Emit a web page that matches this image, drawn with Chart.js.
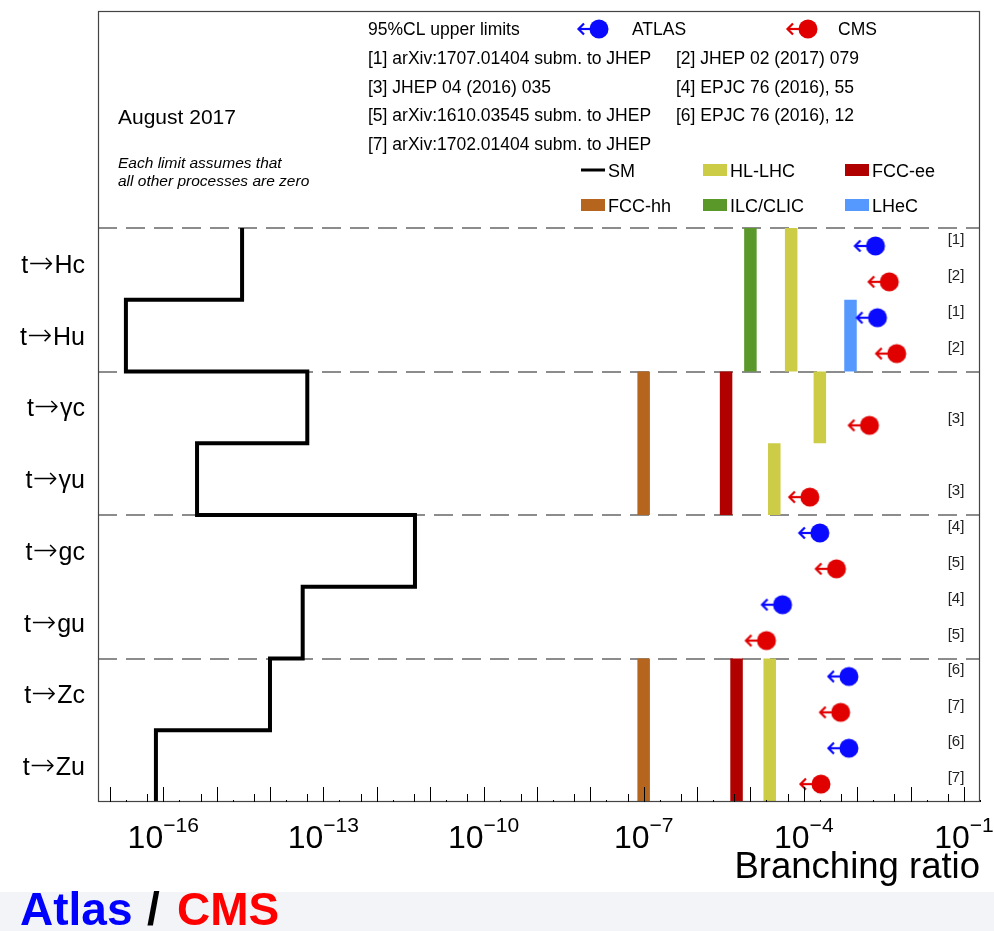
<!DOCTYPE html>
<html>
<head>
<meta charset="utf-8">
<script src="https://cdn.jsdelivr.net/npm/chart.js@4.4.1/dist/chart.umd.min.js"></script>
<style>
body { margin: 0; background: #fff; }
#wrap { position: relative; width: 994px; height: 931px; }
</style>
</head>
<body>
<div id="wrap"><canvas id="chart" width="994" height="931"></canvas></div>
<script>
// processes, top to bottom
var processes = ["t\u2192Hc", "t\u2192Hu", "t\u2192\u03b3c", "t\u2192\u03b3u", "t\u2192gc", "t\u2192gu", "t\u2192Zc", "t\u2192Zu"];
// SM branching ratios
var smBR = [3e-15, 2e-17, 5e-14, 4.3e-16, 5.2e-12, 4.1e-14, 1e-14, 7.3e-17];
// 95% CL upper limits
var atlasBR = [2.2e-3, 2.4e-3, null, null, 2.0e-4, 4.0e-5, 7.0e-4, 7.0e-4];
var atlasRef = ["[1]", "[1]", "", "", "[4]", "[4]", "[6]", "[6]"];
var cmsBR = [4.0e-3, 5.5e-3, 1.7e-3, 1.3e-4, 4.1e-4, 2.0e-5, 4.9e-4, 2.1e-4];
var cmsRef = ["[2]", "[2]", "[3]", "[3]", "[5]", "[5]", "[7]", "[7]"];
// future colliders
var hllhc = [5.8e-5, 5.8e-5, 2.0e-4, 2.8e-5, null, null, 2.3e-5, 2.3e-5];
var fccee = [null, null, 3.5e-6, 3.5e-6, null, null, 5.5e-6, 5.5e-6];
var fcchh = [null, null, 1e-7, 1e-7, null, null, 1e-7, 1e-7];
var ilcclic = [1e-5, 1e-5, null, null, null, null, null, null];
var lhec = [null, 7.5e-4, null, null, null, null, null, null];
// axis
var tickExponents = [-16, -13, -10, -7, -4, -1];
var separators = [4, 8, 12, 16];
// header text
var refCol1 = ["[1] arXiv:1707.01404 subm. to JHEP", "[3] JHEP 04 (2016) 035", "[5] arXiv:1610.03545 subm. to JHEP", "[7] arXiv:1702.01404 subm. to JHEP"];
var refCol2 = ["[2] JHEP 02 (2017) 079", "[4] EPJC 76 (2016), 55", "[6] EPJC 76 (2016), 12"];
var legendNames = ["SM", "HL-LHC", "FCC-ee", "FCC-hh", "ILC/CLIC", "LHeC"];

var FONT = '"Liberation Sans", Arial, Helvetica, sans-serif';
var colors = {
    atlas: "#0a0aff", cms: "#e00000", sm: "#000000",
    hllhc: "#cccc47", fccee: "#b00000", fcchh: "#b5651d",
    ilcclic: "#5a982a", lhec: "#5599ff"
};

function makeMarker(color){
    var c = document.createElement("canvas");
    c.width = 50; c.height = 22;
    var g = c.getContext("2d");
    g.fillStyle = color; g.strokeStyle = color; g.lineWidth = 2.2;
    g.beginPath(); g.arc(25, 11, 9.5, 0, Math.PI * 2); g.fill();
    g.beginPath(); g.moveTo(25, 11); g.lineTo(4.5, 11); g.stroke();
    g.beginPath(); g.moveTo(10, 5.5); g.lineTo(4.5, 11); g.lineTo(10, 16.5); g.stroke();
    return c;
}
var atlasMarker = makeMarker(colors.atlas);
var cmsMarker = makeMarker(colors.cms);

function barData(vals){
    var pts = [];
    vals.forEach(function(v, i){
        if (v == null) return;
        var top = 16 - 2 * i;
        pts.push({x: v, y: top}, {x: v, y: top - 2}, {x: v, y: null});
    });
    return pts;
}

var smPts = smBR.map(function(v, i){ return {x: v, y: 16 - 2 * i}; });
smPts.push({x: smBR[smBR.length - 1], y: 0});

var atlasPts = [], cmsPts = [];
processes.forEach(function(p, i){
    var top = 16 - 2 * i;
    if (atlasBR[i] != null) atlasPts.push({x: atlasBR[i], y: top - 0.5});
    if (cmsBR[i] != null) cmsPts.push({x: cmsBR[i], y: top - 1.5});
});

function barSet(label, vals, color){
    return {
        label: label, data: barData(vals), showLine: true, spanGaps: false,
        borderColor: color, borderWidth: 12.5, borderCapStyle: "butt",
        pointRadius: 0, pointHoverRadius: 0
    };
}

function drawSup(ctx, x, y, exp){
    ctx.font = "32px " + FONT;
    var w1 = ctx.measureText("10").width;
    var expText = "\u2212" + Math.abs(exp);
    ctx.font = "21px " + FONT;
    var w2 = ctx.measureText(expText).width;
    var start = x - (w1 + w2) / 2;
    ctx.textAlign = "left";
    ctx.textBaseline = "alphabetic";
    ctx.font = "32px " + FONT;
    ctx.fillText("10", start, y);
    ctx.font = "21px " + FONT;
    ctx.fillText(expText, start + w1, y - 16);
}

// "t", arrow, rest; the arrow glyph comes from a light DejaVu face so it is long and thin
function drawProcess(ctx, label, right, cy){
    var parts = label.split("\u2192");
    var fText = "25px " + FONT, fArrow = '200 30px "DejaVu Sans", sans-serif';
    ctx.font = fText;
    var w1 = ctx.measureText(parts[0]).width, w3 = ctx.measureText(parts[1]).width;
    ctx.font = fArrow;
    var w2 = ctx.measureText("\u2192").width;
    var x = right - (w1 + w2 + w3 + 1);
    var base = cy + 9;
    ctx.textAlign = "left";
    ctx.textBaseline = "alphabetic";
    ctx.font = fText;
    ctx.fillText(parts[0], x, base);
    ctx.font = fArrow;
    ctx.fillText("\u2192", x + w1, base);
    ctx.font = fText;
    ctx.fillText(parts[1], x + w1 + w2 + 1, base);
}

var decor = {
    id: "decor",
    beforeDraw: function(chart){
        var ctx = chart.ctx;
        ctx.save();
        ctx.fillStyle = "#ffffff";
        ctx.fillRect(0, 0, chart.width, chart.height);
        ctx.fillStyle = "#f3f4f7";
        ctx.fillRect(0, 892, chart.width, chart.height - 892);
        ctx.restore();
    },
    beforeDatasetsDraw: function(chart){
        var ctx = chart.ctx, a = chart.chartArea, ys = chart.scales.y;
        ctx.save();
        ctx.strokeStyle = "#8c8c8c";
        ctx.lineWidth = 2;
        ctx.setLineDash([19, 9]);
        separators.forEach(function(v){
            var py = Math.round(ys.getPixelForValue(v));
            ctx.beginPath(); ctx.moveTo(a.left, py); ctx.lineTo(a.right, py); ctx.stroke();
        });
        ctx.restore();
    },
    afterDatasetsDraw: function(chart){
        var ctx = chart.ctx, a = chart.chartArea, xs = chart.scales.x, ys = chart.scales.y;
        ctx.save();
        // frame
        ctx.strokeStyle = "#444";
        ctx.lineWidth = 1.2;
        ctx.strokeRect(a.left + 0.5, a.top + 0.5, a.right - a.left - 1, a.bottom - a.top - 1);
        // x ticks (inside)
        ctx.strokeStyle = "#000";
        ctx.lineWidth = 1;
        for (var n = -18; n <= 0; n++){
            [1, 2, 5].forEach(function(m){
                var v = m * Math.pow(10, n);
                if (v < xs.min || v > xs.max) return;
                var px = Math.round(xs.getPixelForValue(v)) + 0.5;
                var len = m == 1 ? 15 : (m == 5 ? 8 : 2);
                ctx.beginPath(); ctx.moveTo(px, a.bottom); ctx.lineTo(px, a.bottom - len); ctx.stroke();
            });
        }
        // tick labels
        ctx.fillStyle = "#000";
        tickExponents.forEach(function(e){
            drawSup(ctx, xs.getPixelForValue(Math.pow(10, e)), 848, e);
        });
        ctx.font = "36.5px " + FONT;
        ctx.textAlign = "right";
        ctx.fillText("Branching ratio", a.right, 878);
        // process labels
        processes.forEach(function(p, i){
            drawProcess(ctx, p, 85, ys.getPixelForValue(15 - 2 * i));
        });
        // reference tags on the right
        ctx.font = "15px " + FONT;
        ctx.textAlign = "center";
        ctx.textBaseline = "middle";
        ctx.fillStyle = "#222";
        processes.forEach(function(p, i){
            var top = 16 - 2 * i;
            if (atlasRef[i]) ctx.fillText(atlasRef[i], 956, ys.getPixelForValue(top - 0.5 + 0.17));
            if (cmsRef[i]) ctx.fillText(cmsRef[i], 956, ys.getPixelForValue(top - 1.5 + 0.17));
        });
        // header
        ctx.fillStyle = "#000";
        ctx.textAlign = "left";
        ctx.textBaseline = "alphabetic";
        ctx.font = "17.5px " + FONT;
        ctx.fillText("95%CL upper limits", 368, 34.5);
        ctx.drawImage(atlasMarker, 599 - 25, 29 - 11);
        ctx.fillText("ATLAS", 632, 34.5);
        ctx.drawImage(cmsMarker, 808 - 25, 29 - 11);
        ctx.fillText("CMS", 838, 34.5);
        var rowY = [64, 92.5, 121, 149.5];
        refCol1.forEach(function(t, i){ ctx.fillText(t, 368, rowY[i]); });
        refCol2.forEach(function(t, i){ ctx.fillText(t, 676, rowY[i]); });
        ctx.font = "21px " + FONT;
        ctx.fillText("August 2017", 118, 123.5);
        ctx.font = "italic 15.5px " + FONT;
        ctx.fillText("Each limit assumes that", 118, 168);
        ctx.fillText("all other processes are zero", 118, 186);
        // legend
        var legColors = [colors.sm, colors.hllhc, colors.fccee, colors.fcchh, colors.ilcclic, colors.lhec];
        var legX = [581, 703, 845, 581, 703, 845];
        var legY = [170, 170, 170, 205, 205, 205];
        ctx.font = "18px " + FONT;
        legendNames.forEach(function(name, i){
            ctx.fillStyle = legColors[i];
            if (i == 0) ctx.fillRect(legX[i], legY[i] - 1.5, 24, 3);
            else ctx.fillRect(legX[i], legY[i] - 6, 24, 12);
            ctx.fillStyle = "#000";
            ctx.fillText(name, legX[i] + 27, legY[i] + 6.5);
        });
        // footer
        ctx.font = "bold 46px " + FONT;
        ctx.fillStyle = "#0000ff";
        ctx.fillText("Atlas", 20, 925);
        ctx.fillStyle = "#000";
        ctx.fillText("/", 147, 925);
        ctx.fillStyle = "#ff0000";
        ctx.fillText("CMS", 177, 925);
        ctx.restore();
    }
};

var ctx = document.getElementById("chart").getContext("2d");
var chart = new Chart(ctx, {
    type: "scatter",
    data: {
        datasets: [
            {label: "ATLAS", data: atlasPts, pointStyle: atlasMarker, pointRadius: 10, pointHoverRadius: 10, showLine: false},
            {label: "CMS", data: cmsPts, pointStyle: cmsMarker, pointRadius: 10, pointHoverRadius: 10, showLine: false},
            {label: "SM", data: smPts, showLine: true, stepped: "after", borderColor: colors.sm, borderWidth: 4,
                borderJoinStyle: "miter", pointRadius: 0, pointHoverRadius: 0},
            barSet("LHeC", lhec, colors.lhec),
            barSet("ILC/CLIC", ilcclic, colors.ilcclic),
            barSet("FCC-hh", fcchh, colors.fcchh),
            barSet("FCC-ee", fccee, colors.fccee),
            barSet("HL-LHC", hllhc, colors.hllhc)
        ]
    },
    options: {
        responsive: false,
        animation: false,
        events: [],
        layout: {padding: {left: 98, top: 7, right: 14, bottom: 129}},
        plugins: {legend: {display: false}, tooltip: {enabled: false}},
        scales: {
            x: {type: "logarithmic", min: 6e-18, max: 0.2, display: false},
            y: {type: "linear", min: 0, max: 22.05, display: false}
        }
    },
    plugins: [decor]
});
</script>
</body>
</html>
